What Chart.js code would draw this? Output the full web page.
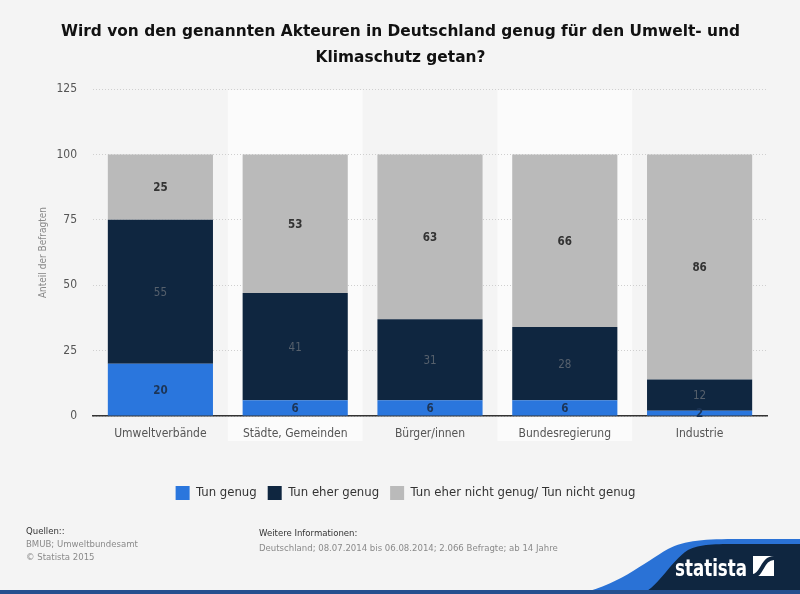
<!DOCTYPE html>
<html>
<head>
<meta charset="utf-8">
<script src="https://cdn.jsdelivr.net/npm/chart.js@4/dist/chart.umd.min.js"></script>
<style>
  html, body { margin:0; padding:0; background:#f4f4f4; }
  #wrap { position:absolute; left:0; top:0; width:800px; height:594px; overflow:hidden; background:#f4f4f4; }
  #c { position:absolute; left:0; top:0; }
  .ft { position:absolute; font-family:"DejaVu Sans Condensed","DejaVu Sans",sans-serif; font-size:9.5px; line-height:13px; white-space:nowrap; }
  .dark { color:#333; }
  .grey { color:#8a8a8a; }
  #logo { position:absolute; left:0; top:0; }
</style>
</head>
<body>
<div id="wrap">
  <canvas id="c" width="800" height="594"></canvas>
  <div class="ft" style="left:26px;top:524px;">
    <div class="dark">Quellen::</div>
    <div class="grey">BMUB; Umweltbundesamt</div>
    <div class="grey">© Statista 2015</div>
  </div>
  <div class="ft" style="left:259px;top:526px;">
    <div class="dark">Weitere Informationen:</div>
    <div class="grey" style="margin-top:2px;">Deutschland; 08.07.2014 bis 06.08.2014; 2.066 Befragte; ab 14 Jahre</div>
  </div>
  <svg id="logo" width="800" height="594" viewBox="0 0 800 594">
    <path d="M575,594 C615,588 645,562 668,549 C685,540 705,539 740,539 L800,539 L800,594 Z" fill="#2a72d6"/>
    <path d="M642,594 C660,585 670,562 688,550 C700,544 715,544 740,544 L800,544 L800,594 Z" fill="#0f2640"/>
    <rect x="0" y="590" width="800" height="4" fill="#264f8f"/>
    <text x="675" y="576" textLength="72" lengthAdjust="spacingAndGlyphs" font-family="DejaVu Sans Condensed, DejaVu Sans, sans-serif" font-weight="bold" font-size="23" fill="#ffffff">statista</text>
    <rect x="753" y="556" width="21" height="20" fill="#ffffff"/>
    <path d="M753,576 C762,576 762,558 774,558" stroke="#0f2640" stroke-width="4" fill="none"/>
  </svg>
</div>
<script>
const categories = ['Umweltverbände', 'Städte, Gemeinden', 'Bürger/innen', 'Bundesregierung', 'Industrie'];
const seriesNames = ['Tun genug', 'Tun eher genug', 'Tun eher nicht genug/ Tun nicht genug'];
const tunGenug = [20, 6, 6, 6, 2];
const tunEherGenug = [55, 41, 31, 28, 12];
const tunNichtGenug = [25, 53, 63, 66, 86];
const yTickValues = [0, 25, 50, 75, 100, 125];
const titleLines = ['Wird von den genannten Akteuren in Deutschland genug für den Umwelt- und', 'Klimaschutz getan?'];
const yAxisTitle = 'Anteil der Befragten';

const COND = '"DejaVu Sans Condensed", "DejaVu Sans", sans-serif';

const bandPlugin = {
  id: 'bands',
  beforeDraw(chart) {
    const {ctx, chartArea} = chart;
    const xs = chart.scales.x;
    const w = xs.width / categories.length;
    ctx.save();
    ctx.fillStyle = '#fbfbfb';
    [1, 3].forEach(i => {
      const cx = xs.getPixelForValue(i);
      ctx.fillRect(cx - w / 2, chartArea.top + 1, w, chartArea.bottom - chartArea.top + 24);
    });
    ctx.restore();
  }
};

const boxShift = {
  id: 'boxShift',
  afterLayout(chart) {
    if (chart.legend) { chart.legend.left += 22; chart.legend.right += 22; }
    if (chart.titleBlock) { chart.titleBlock.left += 17; chart.titleBlock.right += 17; }
  }
};

const labelStyles = [
  {color: '#1d3556', weight: 'bold'},
  {color: '#56606c', weight: 'normal'},
  {color: '#333333', weight: 'bold'}
];

const valueLabelPlugin = {
  id: 'valueLabels',
  afterDatasetsDraw(chart) {
    const {ctx} = chart;
    ctx.save();
    ctx.textAlign = 'center';
    ctx.textBaseline = 'middle';
    chart.data.datasets.forEach((ds, di) => {
      const meta = chart.getDatasetMeta(di);
      const st = labelStyles[di];
      ctx.font = st.weight + ' 11.5px ' + COND;
      ctx.fillStyle = st.color;
      meta.data.forEach((el, i) => {
        const y = (el.y + el.base) / 2;
        ctx.fillText(String(ds.data[i]), el.x, y + 1);
      });
    });
    ctx.restore();
  }
};

new Chart(document.getElementById('c'), {
  type: 'bar',
  data: {
    labels: categories,
    datasets: [
      {label: seriesNames[0], data: tunGenug, backgroundColor: '#2a76dd'},
      {label: seriesNames[1], data: tunEherGenug, backgroundColor: '#0f2640'},
      {label: seriesNames[2], data: tunNichtGenug, backgroundColor: '#bababa'}
    ]
  },
  options: {
    responsive: false,
    animation: false,
    devicePixelRatio: 1,
    layout: {padding: {left: 0, right: 33, top: 0, bottom: 84}},
    datasets: {bar: {barPercentage: 0.78, categoryPercentage: 1.0, borderWidth: 0}},
    plugins: {
      title: {
        display: true,
        text: titleLines,
        color: '#111111',
        font: {family: '"DejaVu Sans", sans-serif', size: 15.4, weight: 'bold', lineHeight: 1.69},
        padding: {top: 19, bottom: 18}
      },
      legend: {
        display: true,
        position: 'bottom',
        labels: {
          boxWidth: 14, boxHeight: 14, padding: 11,
          color: '#333333',
          font: {family: COND, size: 13}
        }
      },
      tooltip: {enabled: false}
    },
    scales: {
      x: {
        stacked: true,
        grid: {display: false, drawTicks: false},
        border: {display: true, color: '#333333', width: 1.5},
        ticks: {color: '#555555', font: {family: COND, size: 12}, padding: 11, maxRotation: 0},
        afterFit(scale) { scale.height = 59; }
      },
      y: {
        stacked: true,
        min: 0, max: 125,
        afterBuildTicks(scale) { scale.ticks = yTickValues.map(v => ({value: v})); },
        grid: {color: '#cfcfcf', drawTicks: false, lineWidth: 1},
        border: {display: false, dash: [1, 2]},
        ticks: {color: '#555555', font: {family: COND, size: 12}, padding: 16},
        title: {
          display: true, text: yAxisTitle, color: '#8a8a8a',
          font: {family: COND, size: 10}, padding: {top: 37, bottom: 0}
        },
        afterFit(scale) { scale.width = 93; }
      }
    }
  },
  plugins: [bandPlugin, boxShift, valueLabelPlugin]
});
</script>
</body>
</html>
